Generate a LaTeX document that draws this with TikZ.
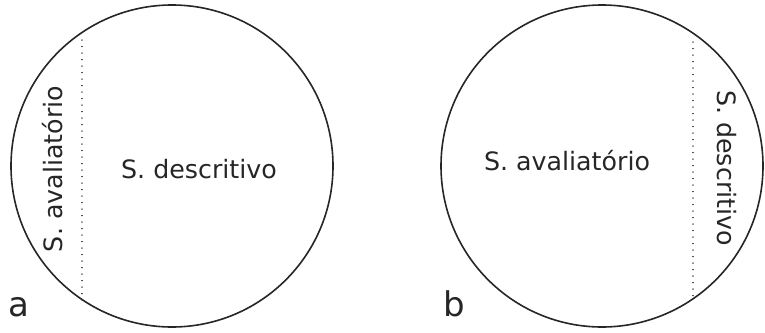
\documentclass[tikz,border=0pt]{standalone}
\usepackage{fontspec}
\setmainfont{DejaVu Sans}
\begin{document}
\begin{tikzpicture}[x=1pt,y=-1pt,
  ring/.style={draw=black!85, line width=1.6pt},
  split/.style={draw=black!75, line width=1.3pt, line cap=round, dash pattern=on 0.1pt off 6.4pt},
  lbl/.style={font=\fontsize{25.3}{30}\selectfont, text=black!85, inner sep=0pt, anchor=base},
  tag/.style={lbl, font=\fontsize{34}{40}\selectfont}
]
\useasboundingbox (0,0) rectangle (765,332);

% panel a
\node[ring, circle, minimum size=322pt, inner sep=0pt] (ca) at (172,166) {};
\coordinate (ta) at (82,40);
\coordinate (ba) at (82,300);
\draw[split] (ta) -- (ba);
\node[lbl, rotate=90] (aval-a) at (62,169) {S. avaliatório};
\node[lbl] (desc-a) at (199,178) {S. descritivo};
\node[tag] (tag-a) at (18.5,316) {a};

% panel b
\node[ring, circle, minimum size=322pt, inner sep=0pt] (cb) at (602,166) {};
\coordinate (tb) at (693,42);
\coordinate (bb) at (693,297);
\draw[split] (tb) -- (bb);
\node[lbl] (aval-b) at (567,170) {S. avaliatório};
\node[lbl, rotate=-90] (desc-b) at (717,168) {S. descritivo};
\node[tag] (tag-b) at (454,316) {b};
\end{tikzpicture}
\end{document}
